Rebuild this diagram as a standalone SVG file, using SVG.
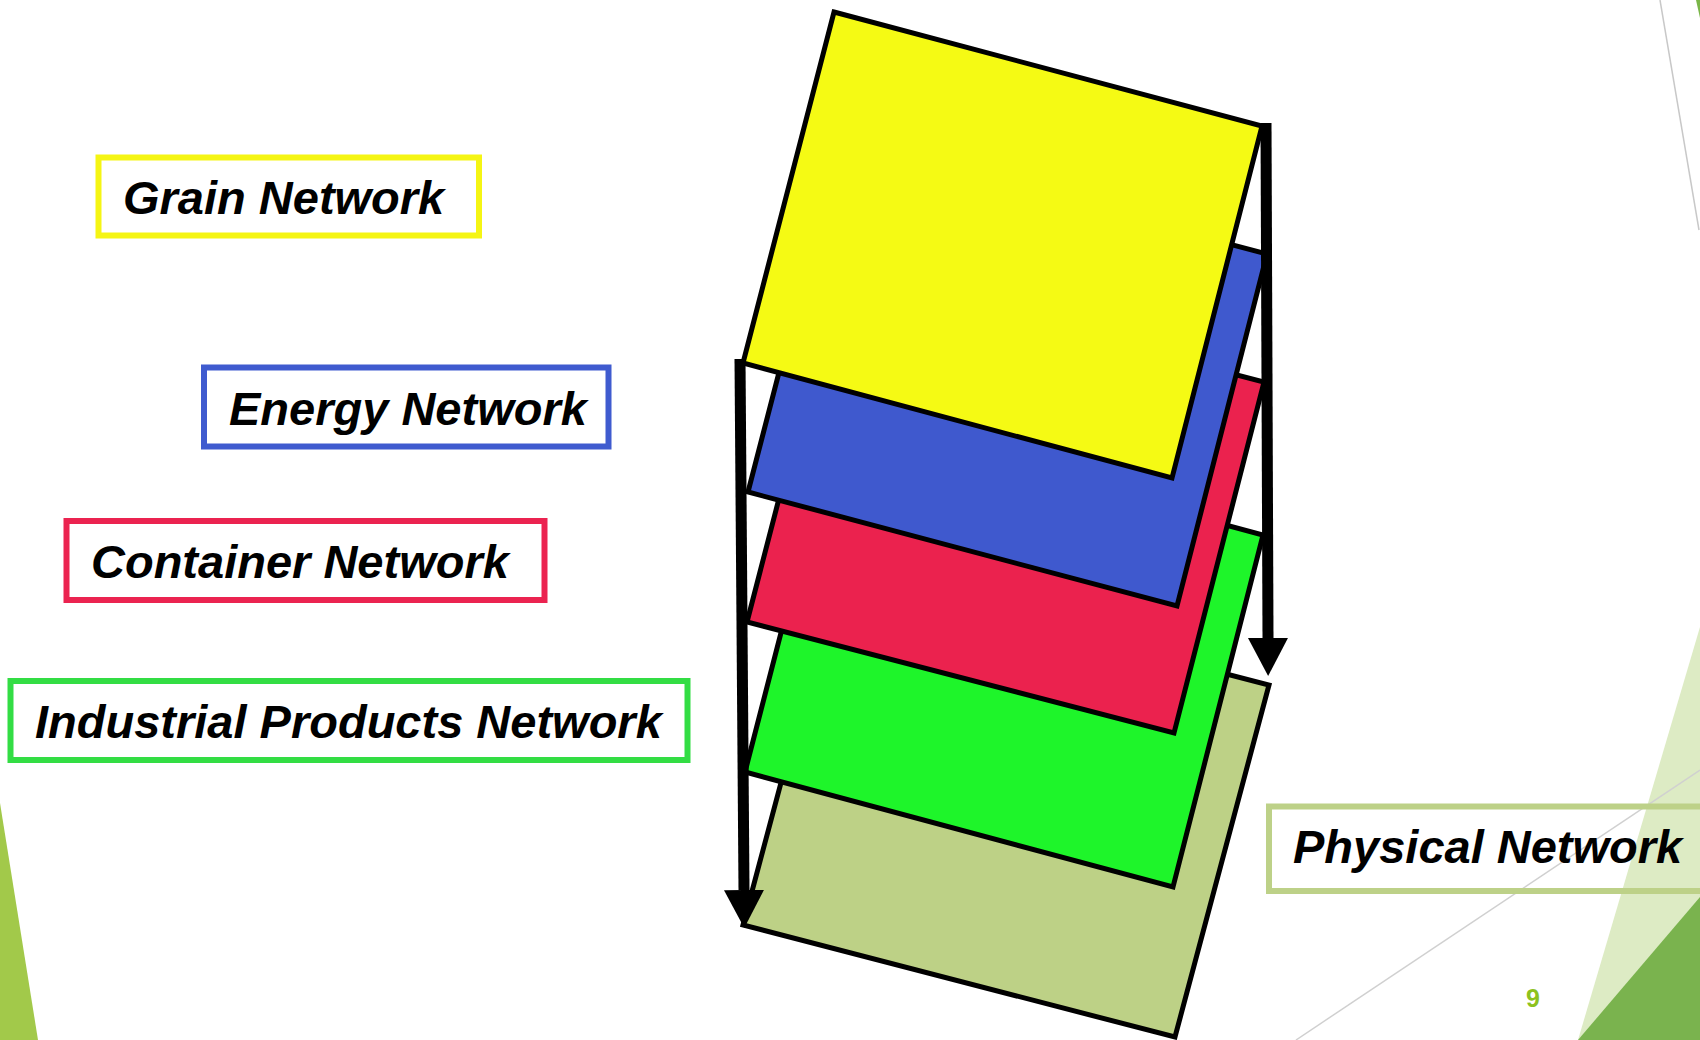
<svg xmlns="http://www.w3.org/2000/svg" width="1700" height="1040" viewBox="0 0 1700 1040">
  <style>
    .layer { stroke: #000; stroke-width: 5; stroke-linejoin: miter; }
    .lbl { fill: none; stroke-width: 6; }
    .lt { font-family: "Liberation Sans", Arial, sans-serif; font-weight: bold; font-style: italic; font-size: 47px; fill: #000; }
    .conn { stroke: #000; stroke-width: 11; fill: none; }
  </style>
  <defs>
    <marker id="head" markerUnits="userSpaceOnUse" markerWidth="38" markerHeight="40" viewBox="0 0 38 40" refX="0" refY="20" orient="auto">
      <path d="M0,0 L38,20 L0,40 Z" fill="#000"/>
    </marker>
  </defs>
  <rect width="1700" height="1040" fill="#fff"/>
  <g id="decor">
    <polygon points="0,803 38,1040 0,1040" fill="#A2C94A"/>
    <line x1="1660" y1="0" x2="1699" y2="230" stroke="#c8c8c8" stroke-width="1.5"/>
    <polygon points="1696,0 1700,0 1700,18" fill="#7AB648"/>
    <polygon points="1700,627 1578,1040 1700,1040" fill="#DDEBC4"/>
    <polygon points="1700,897 1578,1040 1700,1040" fill="#7AB34E"/>
    <line x1="1700" y1="770" x2="1296" y2="1040" stroke="#d0d0d0" stroke-width="1.5"/>
    <text x="1533" y="1007" text-anchor="middle" font-family="Liberation Sans, Arial, sans-serif" font-weight="bold" font-size="25" fill="#8DC21F">9</text>
  </g>
  <g id="physical-layer"><polygon class="layer" fill="#BDD186" points="837,573 1269,685 1175,1037 743,925"/></g>
  <g id="industrial-layer"><polygon class="layer" fill="#1EF52A" points="836,420 1263,535 1173,887 745,772"/></g>
  <g id="container-layer"><polygon class="layer" fill="#EB224E" points="838,271 1264,382 1174,733 747,622"/></g>
  <g id="energy-layer"><polygon class="layer" fill="#3F59CE" points="839,141 1267,254 1177,606 748,492"/></g>
  <g id="grain-layer"><polygon class="layer" fill="#F5FA14" points="834,12 1262,126 1172,478 743,363"/></g>
  <g id="connectors">
    <line class="conn" x1="740" y1="359" x2="744" y2="890" marker-end="url(#head)"/>
    <line class="conn" x1="1266" y1="123" x2="1268" y2="638" marker-end="url(#head)"/>
  </g>
  <g id="grain-label">
    <rect class="lbl" stroke="#F5F514" x="98.5" y="157.5" width="380.5" height="78"/>
    <text class="lt" x="123" y="214">Grain Network</text>
  </g>
  <g id="energy-label">
    <rect class="lbl" stroke="#3F5BCF" x="204" y="367.5" width="404.5" height="79"/>
    <text class="lt" x="229" y="425">Energy Network</text>
  </g>
  <g id="container-label">
    <rect class="lbl" stroke="#EB2350" x="66.5" y="521" width="478" height="79"/>
    <text class="lt" x="91" y="578">Container Network</text>
  </g>
  <g id="industrial-label">
    <rect class="lbl" stroke="#33DD44" x="10.5" y="681" width="677" height="79"/>
    <text class="lt" x="35" y="738">Industrial Products Network</text>
  </g>
  <g id="physical-label">
    <rect class="lbl" stroke="#BDD188" x="1269" y="806.5" width="440" height="84.5"/>
    <text class="lt" x="1293" y="863">Physical Network</text>
  </g>
</svg>
